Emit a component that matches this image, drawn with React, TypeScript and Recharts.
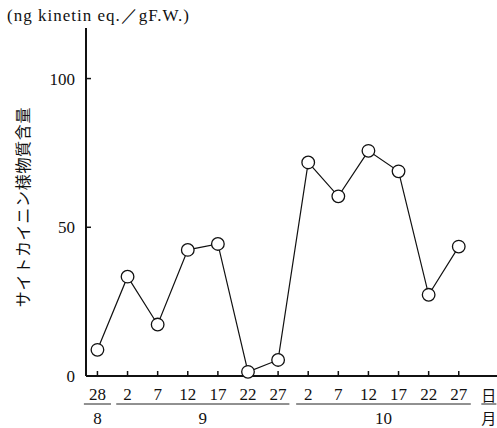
import React from 'react';
import { LineChart, Line, XAxis, YAxis } from 'recharts';

// day of sampling (tick labels) and measured content
const days = ['28', '2', '7', '12', '17', '22', '27', '2', '7', '12', '17', '22', '27'];
const content = [8.8, 33.4, 17.3, 42.4, 44.4, 1.4, 5.4, 71.8, 60.4, 75.7, 68.8, 27.3, 43.5];

// month groups under the day labels: label, centre (in day index), span (in days)
const monthLabels = ['8', '9', '10', '月'];
const monthCenters = [0, 3.5, 9.5, 13];
const monthSpans = [0.9, 5.75, 5.8, 0.5];

const yTicks = [0, 50, 100];

const W = 497;
const H = 428;
const X_DOMAIN: [number, number] = [-0.38, 13.27];
const PLOT_LEFT = 86;
const UNIT = (W - PLOT_LEFT) / (X_DOMAIN[1] - X_DOMAIN[0]);

const serif = '"Liberation Serif", "DejaVu Serif", serif';

const data = content.map((v, i) => ({ i, v }));

function DayTick(props: any) {
  const { x, y, payload } = props;
  return (
    <text x={x} y={y + 24} textAnchor="middle" fontFamily={serif} fontSize={17} fill="#111">
      {days[payload.value]}
    </text>
  );
}

function MonthTick(props: any) {
  const { x, y, index } = props;
  const half = (monthSpans[index] * UNIT) / 2;
  const isUnit = monthLabels[index] === '月';
  return (
    <g>
      {isUnit && (
        <text x={x} y={y - 1} textAnchor="middle" fontFamily='"Noto Sans CJK JP", sans-serif' fontSize={15} fill="#111">
          日
        </text>
      )}
      <line x1={x - half} x2={x + half} y1={y + 2} y2={y + 2} stroke="#222" strokeWidth={1} />
      <text
        x={x}
        y={y + 22}
        textAnchor="middle"
        fontFamily={isUnit ? '"Noto Sans CJK JP", sans-serif' : serif}
        fontSize={isUnit ? 15 : 17}
        fill="#111"
      >
        {monthLabels[index]}
      </text>
    </g>
  );
}

function Ring(props: any) {
  const { cx, cy } = props;
  return <circle cx={cx} cy={cy} r={6.3} fill="#fff" stroke="#111" strokeWidth={1.3} />;
}

export default function App() {
  return (
    <div style={{ position: 'absolute', left: 0, top: 0, width: W, height: H, background: '#fff' }}>
      <div
        style={{
          position: 'absolute',
          left: 7,
          top: 4,
          fontFamily: serif,
          fontSize: 17,
          letterSpacing: 1,
          color: '#111',
          whiteSpace: 'nowrap',
        }}
      >
        (ng kinetin eq.／gF.W.)
      </div>
      <div
        style={{
          position: 'absolute',
          left: 22,
          top: 207,
          transform: 'translate(-50%, -50%) rotate(-90deg)',
          fontFamily: '"Noto Sans CJK JP", sans-serif',
          fontSize: 16,
          letterSpacing: 0.7,
          color: '#111',
          whiteSpace: 'nowrap',
        }}
      >
        サイトカイニン様物質含量
      </div>
      <LineChart width={W} height={H} data={data} margin={{ top: 28, right: 0, bottom: 0, left: 0 }}>
        <XAxis
          xAxisId="day"
          dataKey="i"
          type="number"
          domain={X_DOMAIN}
          allowDataOverflow
          ticks={days.map((_, i) => i)}
          interval={0}
          height={26}
          stroke="#111"
          axisLine={{ stroke: '#111', strokeWidth: 2 }}
          tickLine={{ stroke: '#111', strokeWidth: 1.5 }}
          tickSize={-5}
          tickMargin={5}
          tick={<DayTick />}
        />
        <XAxis
          xAxisId="month"
          dataKey="i"
          type="number"
          domain={X_DOMAIN}
          allowDataOverflow
          ticks={monthCenters}
          interval={0}
          height={26}
          axisLine={false}
          tickLine={false}
          tickSize={0}
          tickMargin={0}
          tick={<MonthTick />}
        />
        <YAxis
          domain={[0, 117]}
          ticks={yTicks}
          width={PLOT_LEFT}
          axisLine={{ stroke: '#111', strokeWidth: 2 }}
          tickLine={{ stroke: '#111', strokeWidth: 1.5 }}
          tickSize={-5}
          tickMargin={16}
          tick={{ fill: '#111', fontFamily: serif, fontSize: 17 }}
        />
        <Line
          xAxisId="day"
          dataKey="v"
          stroke="#111"
          strokeWidth={1.2}
          dot={<Ring />}
          activeDot={false}
          isAnimationActive={false}
        />
      </LineChart>
    </div>
  );
}
